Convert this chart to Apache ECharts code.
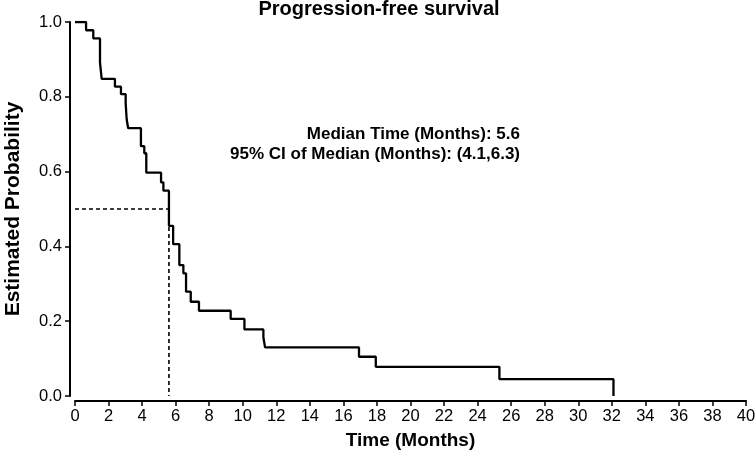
<!DOCTYPE html>
<html>
<head>
<meta charset="utf-8">
<script src="https://cdn.jsdelivr.net/npm/echarts@6/dist/echarts.min.js"></script>
<style>
html,body{margin:0;padding:0;background:#fff;}
#chart{width:755px;height:458px;}
</style>
</head>
<body>
<div id="chart"></div>
<script>
// Kaplan-Meier step data (time in months, survival probability)
var times = [0, 0.66, 1.09, 1.49, 1.59, 2.38, 2.74, 3.02, 3.08, 3.17, 3.93, 4.13, 4.25, 5.13, 5.27, 5.6, 5.85, 6.22, 6.46, 6.62, 6.9, 7.39, 9.28, 10.1, 11.23, 11.33, 16.93, 17.93, 25.3, 32.1, 32.1];
var survival = [1.0, 0.978, 0.956, 0.892, 0.848, 0.827, 0.807, 0.783, 0.74, 0.716, 0.668, 0.649, 0.597, 0.571, 0.549, 0.455, 0.406, 0.35, 0.328, 0.279, 0.252, 0.228, 0.206, 0.178, 0.157, 0.130, 0.105, 0.078, 0.045, 0.045, 0.0];
var medianTime = 5.6;
var medianProb = 0.5;
var xTicks = [0, 40, 2];
var yTicks = [0, 1, 0.2];
var titleText = 'Progression-free survival';
var noteLines = ['Median Time (Months): 5.6', '95% CI of Median (Months): (4.1,6.3)'];

var kmData = times.map(function (t, i) { return [t, survival[i]]; });
var medianData = [[0, medianProb], [medianTime, medianProb], [medianTime, 0]];

var FONT = '"Liberation Sans", Arial, Helvetica, sans-serif';
var chart = echarts.init(document.getElementById('chart'), null, {renderer: 'canvas'});
chart.setOption({
  backgroundColor: '#fff',
  animation: false,
  grid: {left: 75, right: 9, top: 22, bottom: 62, containLabel: false, outerBoundsMode: 'none'},
  xAxis: {
    type: 'value', min: xTicks[0], max: xTicks[1], interval: xTicks[2],
    offset: 5,
    name: 'Time (Months)', nameLocation: 'middle', nameGap: 30,
    nameTextStyle: {fontFamily: FONT, fontWeight: 'bold', fontSize: 19, color: '#000'},
    axisLine: {show: true, onZero: false, lineStyle: {color: '#000', width: 2}},
    axisTick: {show: true, length: 5, lineStyle: {color: '#000', width: 1.5}},
    axisLabel: {fontFamily: FONT, fontSize: 16.5, color: '#000', margin: 7},
    splitLine: {show: false}
  },
  yAxis: {
    type: 'value', min: yTicks[0], max: yTicks[1], interval: yTicks[2],
    offset: 5,
    name: 'Estimated Probability', nameLocation: 'middle', nameGap: 46,
    nameTextStyle: {fontFamily: FONT, fontWeight: 'bold', fontSize: 21, color: '#000'},
    axisLine: {show: true, onZero: false, lineStyle: {color: '#000', width: 2}},
    axisTick: {show: true, length: 5, lineStyle: {color: '#000', width: 1.5}},
    axisLabel: {fontFamily: FONT, fontSize: 16.5, color: '#000', margin: 8,
      formatter: function (v) { return v.toFixed(1); }},
    splitLine: {show: false}
  },
  graphic: [
    {type: 'text', x: 379, y: -1,
     style: {text: titleText, fontFamily: FONT, fontWeight: 'bold', fontSize: 20, fill: '#000', textAlign: 'center', textVerticalAlign: 'top'}},
    {type: 'text', x: 520, y: 134,
     style: {text: noteLines[0], fontFamily: FONT, fontWeight: 'bold', fontSize: 17, fill: '#000', textAlign: 'right', textVerticalAlign: 'middle'}},
    {type: 'text', x: 520, y: 154,
     style: {text: noteLines[1], fontFamily: FONT, fontWeight: 'bold', fontSize: 17, fill: '#000', textAlign: 'right', textVerticalAlign: 'middle'}}
  ],
  series: [
    {
      type: 'line', data: medianData, symbol: 'none',
      lineStyle: {color: '#000', width: 1.6, type: [4, 3]},
      z: 2
    },
    {
      type: 'line', data: kmData, step: 'end', symbol: 'none',
      lineStyle: {color: '#000', width: 2.3},
      z: 3
    }
  ]
});
</script>
</body>
</html>
